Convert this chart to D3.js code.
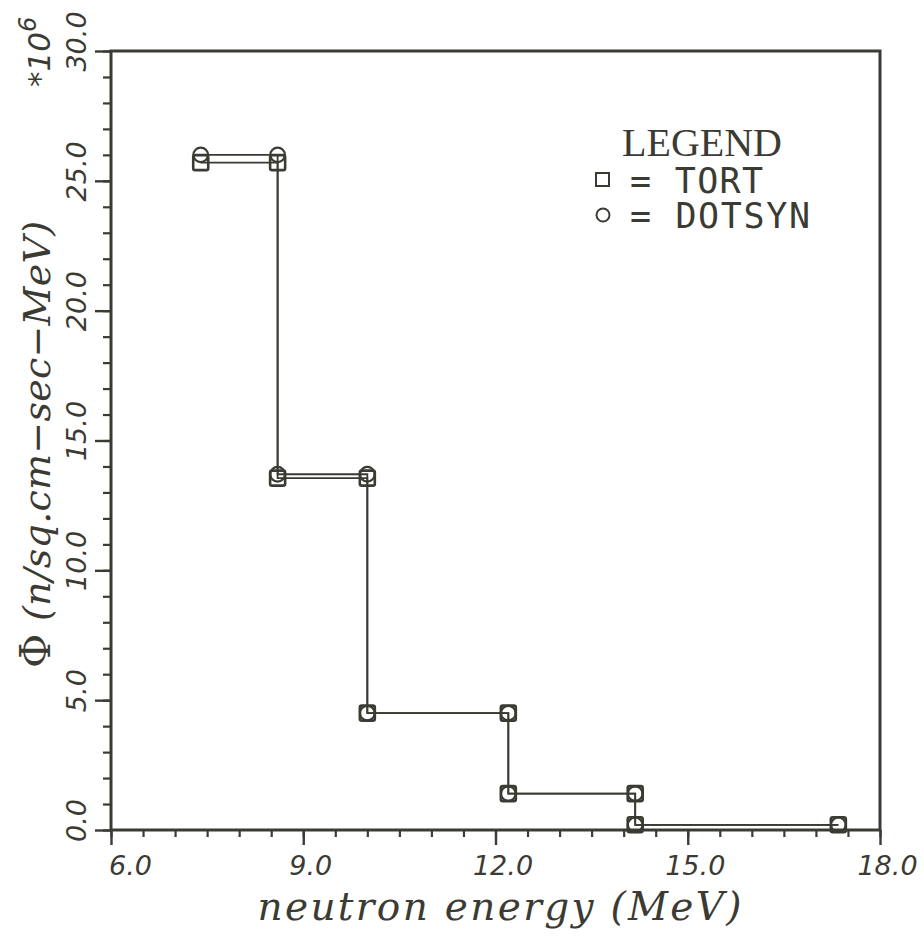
<!DOCTYPE html>
<html>
<head>
<meta charset="utf-8">
<script src="https://cdn.jsdelivr.net/npm/d3@7"></script>
<style>
  html, body { margin: 0; padding: 0; background: #ffffff; }
  svg { display: block; }
</style>
</head>
<body>
<svg id="chart" width="924" height="938"></svg>
<script>
// ---- data ----
const binEdges = [7.4, 8.6, 10.0, 12.2, 14.18, 17.35];     // MeV
const tortValues = [25.7, 13.55, 4.5, 1.4, 0.2];            // x 10^6
const dotsynValues = [26.0, 13.7, 4.5, 1.4, 0.2];           // x 10^6
const xTickValues = [6, 9, 12, 15, 18];
const xTickLabels = ["6.0", "9.0", "12.0", "15.0", "18.0"];
const yTickValues = [0, 5, 10, 15, 20, 25, 30];
const yTickLabels = ["0.0", "5.0", "10.0", "15.0", "20.0", "25.0", "30.0"];
const seriesNames = ["TORT", "DOTSYN"];

// ---- layout ----
const ink = "#3b3b33";
const L = 111, R = 880, T = 51, B = 830;
const svg = d3.select("#chart");

const x = d3.scaleLinear().domain([6, 18]).range([L, R]);
const y = d3.scaleLinear().domain([0, 30]).range([B, T]);

// minor ticks
svg.append("g").attr("transform", `translate(0,${B})`)
  .call(d3.axisBottom(x).tickValues(d3.range(6, 18.001, 0.5)).tickSize(7).tickFormat(""))
  .call(g => g.select(".domain").remove())
  .call(g => g.selectAll("line").attr("stroke", ink).attr("stroke-width", 2.2));
svg.append("g").attr("transform", `translate(${L},0)`)
  .call(d3.axisLeft(y).tickValues(d3.range(0, 30.001, 1)).tickSize(8).tickFormat(""))
  .call(g => g.select(".domain").remove())
  .call(g => g.selectAll("line").attr("stroke", ink).attr("stroke-width", 2.2));

// major x axis
svg.append("g").attr("transform", `translate(0,${B})`)
  .call(d3.axisBottom(x).tickValues(xTickValues).tickSize(15)
        .tickFormat((d, i) => xTickLabels[i]))
  .call(g => g.select(".domain").remove())
  .call(g => g.selectAll("line").attr("stroke", ink).attr("stroke-width", 2.4))
  .call(g => g.selectAll("text")
        .attr("y", 45).attr("dy", 0)
        .attr("dx", d => d === 6 ? 19 : 7)
        .attr("text-anchor", "middle")
        .attr("fill", ink)
        .style("font-family", "'DejaVu Sans', sans-serif")
        .style("font-style", "italic")
        .style("font-size", "27px"));

// major y axis
svg.append("g").attr("transform", `translate(${L},0)`)
  .call(d3.axisLeft(y).tickValues(yTickValues).tickSize(16)
        .tickFormat((d, i) => yTickLabels[i]))
  .call(g => g.select(".domain").remove())
  .call(g => g.selectAll("line").attr("stroke", ink).attr("stroke-width", 2.4))
  .call(g => g.selectAll("text")
        .attr("x", 0).attr("y", 0).attr("dy", 0)
        .attr("transform", "translate(-25,-10) rotate(-90)")
        .attr("text-anchor", "middle")
        .attr("fill", ink)
        .style("font-family", "'DejaVu Sans', sans-serif")
        .style("font-style", "italic")
        .style("font-size", "27px"));

// frame
svg.append("rect")
  .attr("x", x(6)).attr("y", y(30))
  .attr("width", x(18) - x(6)).attr("height", y(0) - y(30))
  .attr("fill", "none").attr("stroke", ink).attr("stroke-width", 3);

// ---- series ----
function stepPoints(values) {
  const pts = [];
  values.forEach((v, i) => {
    pts.push([binEdges[i], v]);
    pts.push([binEdges[i + 1], v]);
  });
  return pts;
}
const line = d3.line().x(d => x(d[0])).y(d => y(d[1]));

const tortPts = stepPoints(tortValues);
const dotsPts = stepPoints(dotsynValues);

svg.append("path").datum(dotsPts).attr("d", line)
  .attr("fill", "none").attr("stroke", ink).attr("stroke-width", 1.8);
svg.append("path").datum(tortPts).attr("d", line)
  .attr("fill", "none").attr("stroke", ink).attr("stroke-width", 1.8);

const sq = 15;
svg.append("g").selectAll("rect").data(tortPts).join("rect")
  .attr("x", d => x(d[0]) - sq / 2).attr("y", d => y(d[1]) - sq / 2)
  .attr("width", sq).attr("height", sq).attr("rx", 2)
  .attr("fill", "none").attr("stroke", ink).attr("stroke-width", 2.6);
svg.append("g").selectAll("circle").data(dotsPts).join("circle")
  .attr("cx", d => x(d[0])).attr("cy", d => y(d[1])).attr("r", 7.3)
  .attr("fill", "none").attr("stroke", ink).attr("stroke-width", 2.2);

// ---- legend ----
svg.append("text")
  .attr("x", 622).attr("y", 156)
  .attr("textLength", 160)
  .attr("fill", ink)
  .style("font-family", "'Liberation Serif', serif")
  .style("font-size", "40px")
  .text("LEGEND");

svg.append("rect").attr("x", 596).attr("y", 173).attr("width", 13).attr("height", 13)
  .attr("fill", "none").attr("stroke", ink).attr("stroke-width", 2);
svg.append("circle").attr("cx", 603).attr("cy", 215).attr("r", 6.5)
  .attr("fill", "none").attr("stroke", ink).attr("stroke-width", 2);

svg.selectAll("text.leg").data(seriesNames).join("text")
  .attr("class", "leg")
  .attr("x", 630).attr("y", (d, i) => 193 + i * 35)
  .attr("fill", ink)
  .style("font-family", "'DejaVu Sans Mono', monospace")
  .style("font-size", "35px")
  .attr("textLength", (d, i) => i === 0 ? 133 : 180)
  .text(d => "= " + d);

// ---- axis titles ----
svg.append("text")
  .attr("x", (L + R) / 2 + 4).attr("y", 920)
  .attr("text-anchor", "middle")
  .attr("textLength", 484)
  .attr("fill", ink)
  .style("font-family", "'DejaVu Serif', serif")
  .style("font-style", "italic")
  .style("font-size", "39px")
  .text("neutron energy (MeV)");

const yt = svg.append("text")
  .attr("transform", `translate(50,${(T + B) / 2 + 4}) rotate(-90)`)
  .attr("text-anchor", "middle")
  .attr("textLength", 447)
  .attr("fill", ink)
  .style("font-family", "'DejaVu Serif', serif")
  .style("font-style", "italic")
  .style("font-size", "38px");
yt.append("tspan").style("font-style", "normal").style("font-size", "42px").text("Φ");
yt.append("tspan").text(" (n/sq.cm−sec−MeV)");

const sc = svg.append("text")
  .attr("transform", "translate(50,87) rotate(-90)")
  .attr("fill", ink)
  .style("font-family", "'DejaVu Sans', sans-serif")
  .style("font-style", "italic")
  .style("font-size", "31px");
sc.append("tspan").text("*10");
sc.append("tspan").attr("dy", -14).style("font-size", "24px").text("6");
</script>
</body>
</html>
